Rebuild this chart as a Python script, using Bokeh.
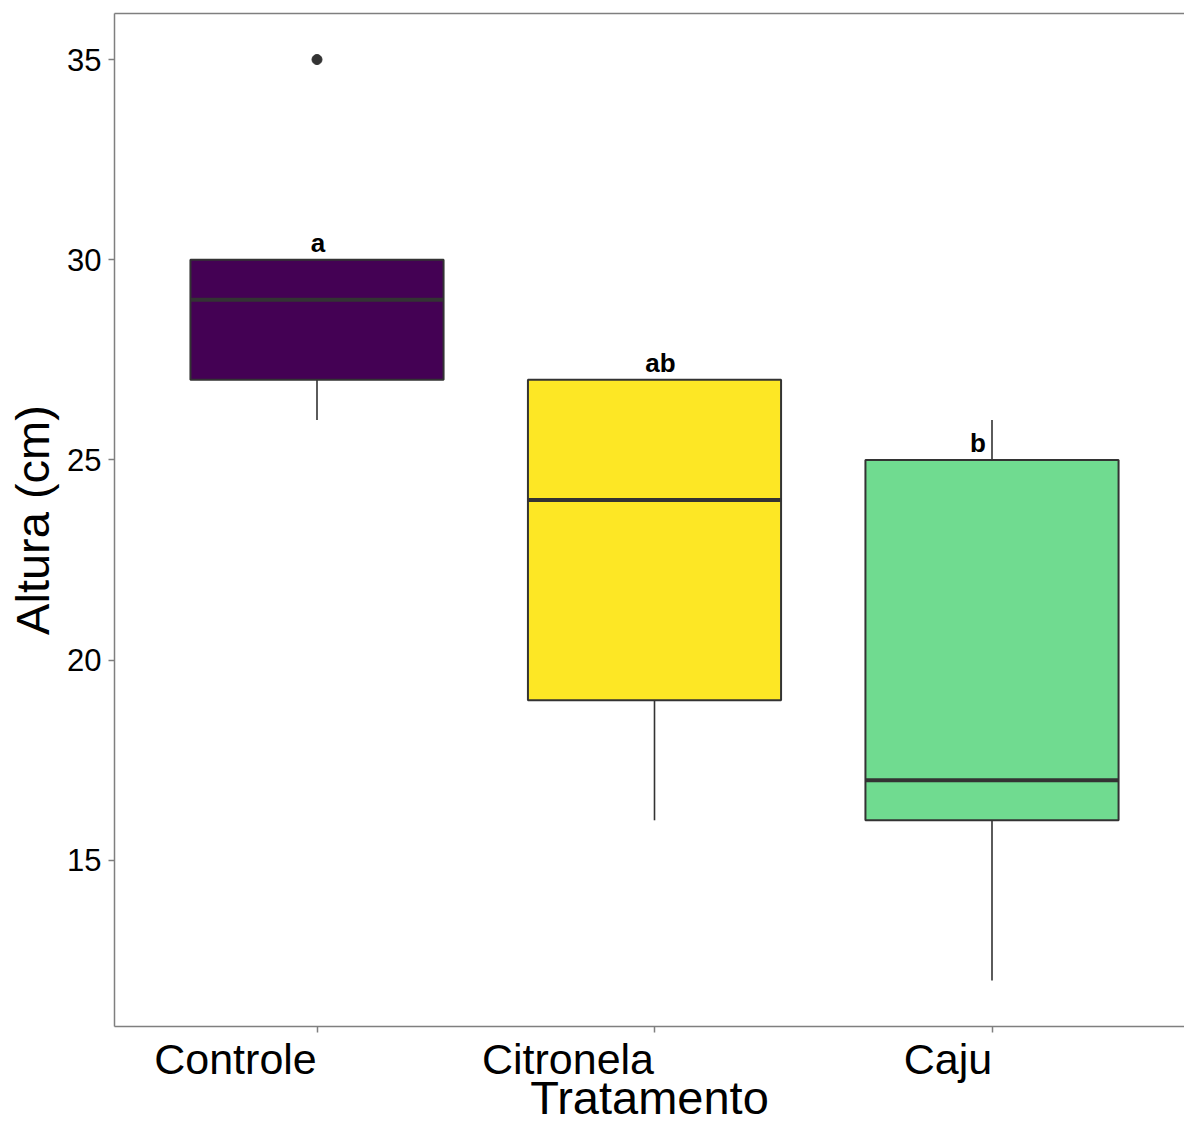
import numpy as np
from bokeh.plotting import figure
from bokeh.models import Range1d, FixedTicker, LinearAxis, ColumnDataSource
from bokeh.core.properties import value
from bokeh.embed import file_html
from bokeh.resources import INLINE

# ---------------- data ----------------
categories = ["Controle", "Citronela", "Caju"]
q1 = [27, 19, 16]
median = [29, 24, 17]
q3 = [30, 27, 25]
whisker_low = [26, 16, 12]
whisker_high = [30, 27, 26]
outlier_cat = ["Controle"]
outlier_val = [35]
letters = ["a", "ab", "b"]
fills = ["#440154", "#FDE725", "#70DB90"]
y_ticks = [15, 20, 25, 30, 35]

# ---------------- layout / style ----------------
W, H = 1184, 1126
left_b, top_b = 114, 13
frame_h = 1013
bottom_b = H - top_b - frame_h
frame_w = W - left_b
px_per_cat = 337.5
x0 = 0.4
x1 = x0 + frame_w / px_per_cat
y0, y1 = 10.85, 36.15

FONT = "Liberation Sans"
GRAY = "#7f7f7f"
DARK = "#333333"
label_halfwidth_px = [81.5, 86.5, 44.0]   # tick labels are right-aligned at the tick
letter_dx = [1, 6, -14]

xpos = np.arange(1, len(categories) + 1, dtype=float)
box_w = 0.75

p = figure(width=W, height=H, output_backend="svg", toolbar_location=None,
           x_range=Range1d(x0, x1), y_range=Range1d(y0, y1),
           min_border_left=left_b, min_border_top=top_b,
           min_border_bottom=bottom_b, min_border_right=0)
p.outline_line_color = None
p.xgrid.visible = False
p.ygrid.visible = False
p.background_fill_color = "white"
p.border_fill_color = "white"

# x axis: ticks only (labels are drawn by a second axis)
p.xaxis.ticker = FixedTicker(ticks=list(xpos))
p.xaxis.major_label_overrides = {float(x): "" for x in xpos}
p.xaxis.major_label_text_color = None
p.xaxis.major_label_text_font_size = "1px"
p.xaxis.major_label_standoff = 0
# y axis
p.yaxis.ticker = FixedTicker(ticks=y_ticks)
p.yaxis.major_label_text_font = FONT
p.yaxis.major_label_text_font_size = "31px"
p.yaxis.major_label_text_color = "black"
p.yaxis.major_label_standoff = 7
p.yaxis.axis_label = "Altura (cm)"
p.yaxis.axis_label_text_font = FONT
p.yaxis.axis_label_text_font_size = "47px"
p.yaxis.axis_label_text_font_style = "normal"
p.yaxis.axis_label_text_color = "black"
p.yaxis.axis_label_standoff = 5
for ax in (p.xaxis, p.yaxis):
    ax.axis_line_color = GRAY
    ax.axis_line_width = 1.5
    ax.major_tick_line_color = GRAY
    ax.major_tick_line_width = 1.5
    ax.major_tick_out = 6
    ax.major_tick_in = 0
    ax.minor_tick_line_color = None

# x axis: category labels, right-aligned at their ticks
label_pos = [float(x - hw / px_per_cat) for x, hw in zip(xpos, label_halfwidth_px)]
lab_axis = LinearAxis(ticker=FixedTicker(ticks=label_pos),
                      major_label_overrides={lp: c for lp, c in zip(label_pos, categories)},
                      axis_line_color=None, major_tick_line_color=None,
                      minor_tick_line_color=None, major_tick_out=0, major_tick_in=0,
                      major_label_standoff=2,
                      major_label_text_font=FONT, major_label_text_font_size="43px",
                      major_label_text_color="black",
                      axis_label="Tratamento", axis_label_text_font=FONT,
                      axis_label_text_font_size="47px", axis_label_text_font_style="normal",
                      axis_label_text_color="black", axis_label_standoff=-15)
p.add_layout(lab_axis, "below")

# top border line
top_axis = LinearAxis(ticker=FixedTicker(ticks=[]), major_label_text_font_size="0px",
                      major_tick_out=0, major_tick_in=0, minor_tick_out=0, minor_tick_in=0,
                      major_label_standoff=0, axis_line_color=GRAY, axis_line_width=1.5)
p.add_layout(top_axis, "above")

# whiskers
p.segment(x0=xpos, y0=whisker_low, x1=xpos, y1=q1, line_color=DARK, line_width=1.6)
p.segment(x0=xpos, y0=q3, x1=xpos, y1=whisker_high, line_color=DARK, line_width=1.6)

# boxes
p.vbar(x=xpos, width=box_w, bottom=q1, top=q3, fill_color=fills,
       line_color=DARK, line_width=2)
# medians
p.segment(x0=xpos - box_w / 2, y0=median, x1=xpos + box_w / 2, y1=median,
          line_color=DARK, line_width=4)

# outliers
ox = [xpos[categories.index(c)] for c in outlier_cat]
p.scatter(x=ox, y=outlier_val, size=10, fill_color=DARK, line_color=DARK)

# significance letters
src = ColumnDataSource(dict(x=xpos, y=q3, t=letters, dx=letter_dx))
p.text(x="x", y="y", text="t", source=src, x_offset="dx", y_offset=-17,
       text_align="center", text_baseline="alphabetic",
       text_font=value(FONT), text_font_style="bold", text_font_size="26px",
       text_color="black")

open("out.html", "w").write(file_html(p, INLINE))
